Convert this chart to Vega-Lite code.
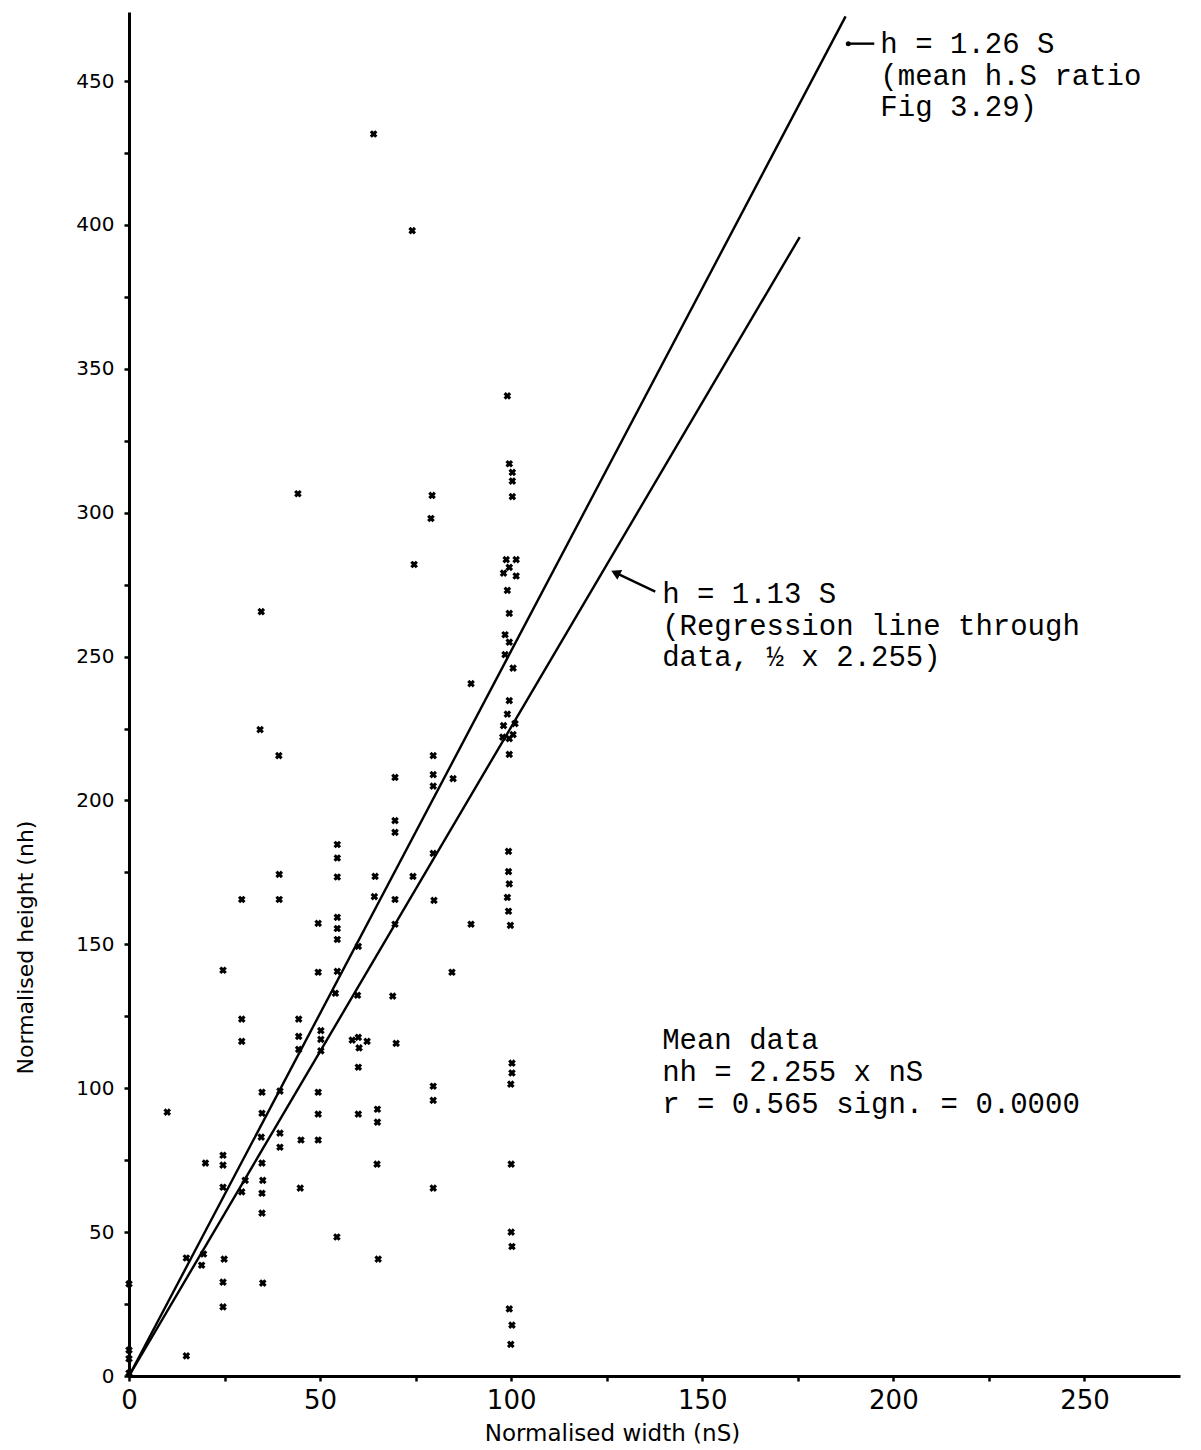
{
  "$schema": "https://vega.github.io/schema/vega-lite/v6.json",
  "width": 1051,
  "height": 1364,
  "autosize": {"type": "none"},
  "padding": {"left": 129, "top": 12, "right": 21, "bottom": 74},
  "background": "white",
  "config": {
    "view": {"stroke": null},
    "axis": {
      "grid": false,
      "domainColor": "black",
      "domainWidth": 3,
      "tickColor": "black",
      "tickWidth": 2.5,
      "tickSize": 5,
      "labelColor": "black",
      "titleColor": "black",
      "labelFontWeight": "normal",
      "titleFontWeight": "normal",
      "labelOverlap": false,
      "labelFlush": false
    }
  },
  "datasets": {
    "pts": [
      {"x": 0, "y": 32}, {"x": 0, "y": 9}, {"x": 0, "y": 6}, {"x": 0, "y": 1},
      {"x": 10, "y": 91.7},
      {"x": 15, "y": 41}, {"x": 15, "y": 7},
      {"x": 20, "y": 74}, {"x": 19.5, "y": 42.4}, {"x": 19, "y": 38.5},
      {"x": 24.6, "y": 141}, {"x": 24.6, "y": 76.7}, {"x": 24.6, "y": 73.3}, {"x": 24.6, "y": 65.6}, {"x": 24.9, "y": 40.6}, {"x": 24.6, "y": 32.6}, {"x": 24.6, "y": 24},
      {"x": 29.5, "y": 165.6}, {"x": 29.5, "y": 124}, {"x": 29.5, "y": 116.3}, {"x": 30.4, "y": 68}, {"x": 29.5, "y": 64},
      {"x": 34.6, "y": 265.6}, {"x": 34.3, "y": 224.6}, {"x": 34.8, "y": 98.6}, {"x": 34.8, "y": 91.3}, {"x": 34.6, "y": 83}, {"x": 34.8, "y": 74}, {"x": 35, "y": 68}, {"x": 34.8, "y": 63.5}, {"x": 34.8, "y": 56.6}, {"x": 35, "y": 32.3},
      {"x": 39.2, "y": 215.6}, {"x": 39.3, "y": 174.3}, {"x": 39.3, "y": 165.6}, {"x": 39.5, "y": 99}, {"x": 39.5, "y": 84.4}, {"x": 39.5, "y": 79.5},
      {"x": 44.2, "y": 306.6}, {"x": 44.4, "y": 124}, {"x": 44.4, "y": 118}, {"x": 44.4, "y": 113.5}, {"x": 45, "y": 82}, {"x": 44.8, "y": 65.3},
      {"x": 49.5, "y": 157.3}, {"x": 49.5, "y": 140.3}, {"x": 50.2, "y": 120}, {"x": 50.2, "y": 117}, {"x": 50.2, "y": 113}, {"x": 49.5, "y": 98.6}, {"x": 49.5, "y": 91}, {"x": 49.5, "y": 82},
      {"x": 54.5, "y": 184.7}, {"x": 54.5, "y": 180}, {"x": 54.5, "y": 173.4}, {"x": 54.5, "y": 159.4}, {"x": 54.5, "y": 155.5}, {"x": 54.5, "y": 151.7}, {"x": 54.5, "y": 140.6}, {"x": 54, "y": 133}, {"x": 54.4, "y": 48.3},
      {"x": 60, "y": 149.3}, {"x": 59.8, "y": 132.3}, {"x": 58.4, "y": 116.7}, {"x": 60, "y": 117.7}, {"x": 62.3, "y": 116.3}, {"x": 60.2, "y": 114}, {"x": 60, "y": 107.3}, {"x": 60, "y": 91},
      {"x": 64, "y": 431.6}, {"x": 64.4, "y": 173.6}, {"x": 64.2, "y": 166.6}, {"x": 65, "y": 92.7}, {"x": 65, "y": 88.2}, {"x": 64.9, "y": 73.6}, {"x": 65.2, "y": 40.6},
      {"x": 69.6, "y": 208}, {"x": 69.6, "y": 193}, {"x": 69.6, "y": 188.9}, {"x": 69.6, "y": 165.6}, {"x": 69.6, "y": 157}, {"x": 69, "y": 132}, {"x": 69.9, "y": 115.6},
      {"x": 74.1, "y": 398}, {"x": 74.6, "y": 282}, {"x": 74.3, "y": 173.6},
      {"x": 79.3, "y": 306}, {"x": 79, "y": 298}, {"x": 79.6, "y": 215.6}, {"x": 79.6, "y": 209}, {"x": 79.6, "y": 205}, {"x": 79.6, "y": 181.6}, {"x": 79.8, "y": 165.3}, {"x": 79.6, "y": 100.7}, {"x": 79.6, "y": 95.8}, {"x": 79.6, "y": 65.3},
      {"x": 84.8, "y": 207.6}, {"x": 84.5, "y": 140.3},
      {"x": 89.5, "y": 240.6}, {"x": 89.5, "y": 157},
      {"x": 99, "y": 340.6}, {"x": 99.5, "y": 317}, {"x": 100.3, "y": 314}, {"x": 100.3, "y": 311}, {"x": 100.3, "y": 305.6}, {"x": 98.7, "y": 283.7}, {"x": 101.3, "y": 283.7}, {"x": 99.5, "y": 281}, {"x": 98, "y": 279}, {"x": 101.3, "y": 278}, {"x": 99, "y": 273}, {"x": 99.5, "y": 265}, {"x": 98.4, "y": 257.6}, {"x": 99.5, "y": 255}, {"x": 98.4, "y": 250.7}, {"x": 100.5, "y": 246}, {"x": 99.5, "y": 234.7}, {"x": 99, "y": 230}, {"x": 101, "y": 226.7}, {"x": 98, "y": 226}, {"x": 100.5, "y": 222.9}, {"x": 97.8, "y": 222}, {"x": 99.5, "y": 221.5}, {"x": 99.5, "y": 216},
      {"x": 99.3, "y": 182.3}, {"x": 99.3, "y": 175.3}, {"x": 99.5, "y": 171}, {"x": 99, "y": 166.3}, {"x": 99.3, "y": 161.5}, {"x": 99.8, "y": 156.6},
      {"x": 100.2, "y": 108.7}, {"x": 100.2, "y": 105.3}, {"x": 99.9, "y": 101.4}, {"x": 100, "y": 73.6}, {"x": 100, "y": 50}, {"x": 100.2, "y": 45}, {"x": 99.5, "y": 23.3}, {"x": 100.2, "y": 17.7}, {"x": 99.9, "y": 11}
    ],
    "lines": [
      {"series": "upper", "x": 0, "y": 0}, {"series": "upper", "x": 187.5, "y": 472.5},
      {"series": "lower", "x": 0, "y": 0}, {"series": "lower", "x": 175.5, "y": 395.8},
      {"series": "arrow1", "x": 188.2, "y": 463}, {"series": "arrow1", "x": 195, "y": 463},
      {"series": "arrow2", "x": 137.7, "y": 272.6}, {"series": "arrow2", "x": 127.5, "y": 279}
    ],
    "dot": [{"x": 188.2, "y": 463}],
    "head": [{"x": 127.3, "y": 279.1}],
    "notes": [
      {"x": 196.6, "y": 462.8, "t": "h = 1.26 S"},
      {"x": 196.6, "y": 451.7, "t": "(mean h.S ratio"},
      {"x": 196.6, "y": 441, "t": "Fig 3.29)"},
      {"x": 139.5, "y": 271.9, "t": "h = 1.13 S"},
      {"x": 139.5, "y": 260.8, "t": "(Regression line through"},
      {"x": 139.5, "y": 249.7, "t": "data, ½ x 2.255)"},
      {"x": 139.5, "y": 116.7, "t": "Mean data"},
      {"x": 139.5, "y": 105.6, "t": "nh = 2.255 x nS"},
      {"x": 139.5, "y": 94.4, "t": "r = 0.565 sign. = 0.0000"}
    ]
  },
  "encoding": {
    "x": {
      "field": "x", "type": "quantitative",
      "scale": {"domain": [0, 275], "nice": false, "zero": true},
      "axis": {
        "title": "Normalised width (nS)",
        "values": [0, 25, 50, 75, 100, 125, 150, 175, 200, 225, 250],
        "labelExpr": "datum.value % 50 === 0 ? datum.label : ''",
        "labelFont": "Liberation Sans Narrow, DejaVu Sans, sans-serif",
        "labelFontSize": 26,
        "labelPadding": 6,
        "titleFont": "DejaVu Sans, sans-serif",
        "titleFontSize": 23,
        "titleX": 483,
        "titleY": 57,
        "titleAlign": "center",
        "titleBaseline": "middle"
      }
    },
    "y": {
      "field": "y", "type": "quantitative",
      "scale": {"domain": [0, 474], "nice": false, "zero": true},
      "axis": {
        "title": "Normalised height  (nh)",
        "values": [0, 25, 50, 75, 100, 125, 150, 175, 200, 225, 250, 275, 300, 325, 350, 375, 400, 425, 450],
        "labelExpr": "datum.value % 50 === 0 ? datum.label : ''",
        "labelFont": "DejaVu Sans, sans-serif",
        "labelFontSize": 20,
        "labelPadding": 10,
        "titleFont": "Liberation Sans Narrow, DejaVu Sans, sans-serif",
        "titleFontSize": 22,
        "titleX": -104,
        "titleY": 935,
        "titleAlign": "center",
        "titleBaseline": "middle"
      }
    }
  },
  "layer": [
    {
      "data": {"name": "lines"},
      "mark": {"type": "line", "color": "black", "strokeWidth": 2.4},
      "encoding": {"detail": {"field": "series", "type": "nominal"}}
    },
    {
      "data": {"name": "pts"},
      "mark": {"type": "point", "shape": "cross", "angle": 45, "filled": true, "size": 60, "color": "black", "opacity": 1}
    },
    {
      "data": {"name": "dot"},
      "mark": {"type": "point", "shape": "circle", "filled": true, "size": 25, "color": "black", "opacity": 1}
    },
    {
      "data": {"name": "head"},
      "mark": {"type": "point", "shape": "triangle-up", "angle": 296, "filled": true, "size": 120, "color": "black", "opacity": 1}
    },
    {
      "data": {"name": "notes"},
      "mark": {"type": "text", "align": "left", "baseline": "middle", "font": "Liberation Mono, Courier New, monospace", "fontSize": 29, "color": "black"},
      "encoding": {"text": {"field": "t", "type": "nominal"}}
    }
  ]
}
